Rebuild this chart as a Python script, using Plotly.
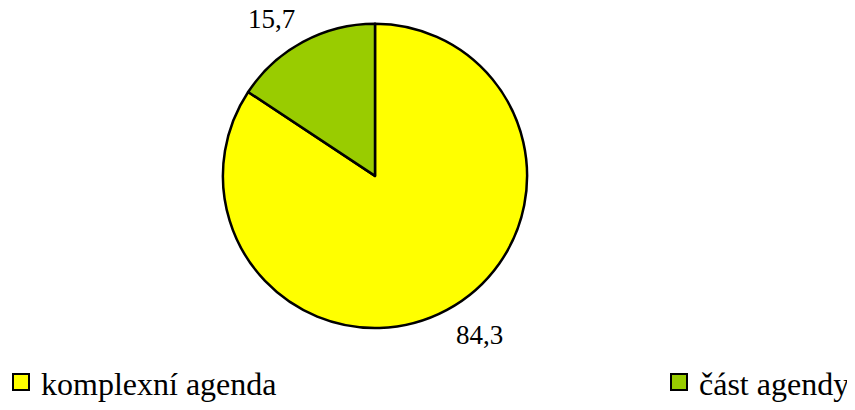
import math
import plotly.graph_objects as go

labels = ["komplexní agenda", "část agendy"]
values = [84.3, 15.7]
value_text = ["84,3", "15,7"]
colors = ["#FFFF00", "#99CC00"]

# the page body has an 8px margin, so the figure is sized to the visible area
W, H = 847, 402
cx, cy, r = 367, 170, 154
FONT = "Liberation Serif"

fig = go.Figure()
fig.add_trace(go.Pie(
    labels=labels,
    values=values,
    textinfo="none",
    sort=False,
    direction="clockwise",
    rotation=0,
    marker=dict(colors=colors, line=dict(color="black", width=2.5)),
    domain=dict(x=[(cx - r) / W, (cx + r) / W], y=[(H - cy - r) / H, (H - cy + r) / H]),
    showlegend=False,
    hoverinfo="label+value",
))

for i, (lab, col) in enumerate(zip(labels, colors)):
    fig.add_trace(go.Scatter(
        x=[None], y=[None], mode="markers",
        name=lab,
        marker=dict(symbol="square", size=22, color=col, line=dict(color="black", width=2)),
        legend="legend" if i == 0 else "legend2",
        showlegend=True,
    ))

total = sum(values)
cum = 0.0
label_dist = [192, 195]
offs = [(13.5, -8), (-11, 13)]
for i, (v, t) in enumerate(zip(values, value_text)):
    mid = (cum + v / 2) / total * 2 * math.pi
    cum += v
    d = label_dist[i]
    px = cx + d * math.sin(mid) + offs[i][0]
    py = cy - d * math.cos(mid) + offs[i][1]
    fig.add_annotation(
        x=px / W, y=1 - py / H, xref="paper", yref="paper",
        text=t, showarrow=False, xanchor="center", yanchor="middle",
        font=dict(family=FONT, size=27, color="black"),
    )

leg_common = dict(
    orientation="h",
    yanchor="middle",
    y=1 - 379 / H,
    itemsizing="trace",
    bgcolor="rgba(0,0,0,0)",
    itemwidth=30,
    font=dict(family=FONT, size=32, color="black"),
)

fig.update_layout(
    width=W, height=H,
    margin=dict(l=0, r=0, t=0, b=0),
    paper_bgcolor="white",
    plot_bgcolor="white",
    font=dict(family=FONT, size=28, color="black"),
    xaxis=dict(visible=False),
    yaxis=dict(visible=False),
    legend=dict(x=0, xanchor="left", indentation=-7, **leg_common),
    legend2=dict(x=651 / W, xanchor="left", **leg_common),
)

fig.write_html("out.html")
